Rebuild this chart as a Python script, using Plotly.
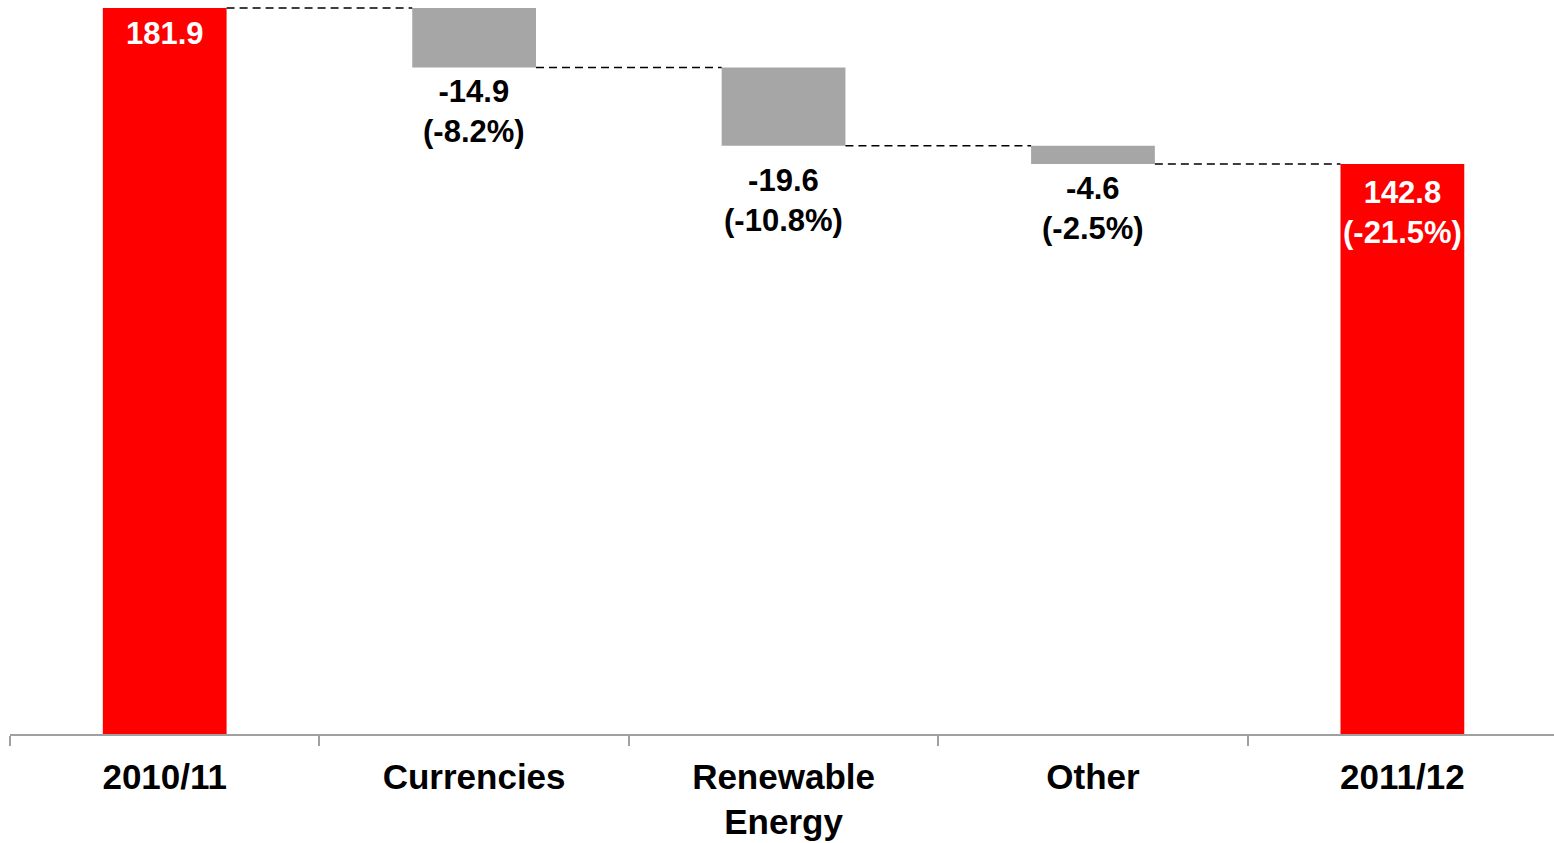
import plotly.graph_objects as go

categories = ["2010/11", "Currencies", "Renewable<br>Energy", "Other", "2011/12"]
kinds = ["total", "delta", "delta", "delta", "total"]
values = [181.9, -14.9, -19.6, -4.6, 142.8]
pct_labels = ["", "(-8.2%)", "(-10.8%)", "(-2.5%)", "(-21.5%)"]

RED = "#FF0000"
GREY = "#A6A6A6"
FONT = "Liberation Sans, Arial, sans-serif"
BAR_W = 0.4
label_gap = [6, 5, 15, 5, 9]

# compute bar bases/tops from data
bases, heights, levels = [], [], []
running = 0.0
for k, v in zip(kinds, values):
    if k == "total":
        bases.append(0.0)
        heights.append(v)
        running = v
    else:
        new = running + v
        bases.append(new)
        heights.append(-v)
        running = new
    levels.append(running)

colors = [RED if k == "total" else GREY for k in kinds]

fig = go.Figure()
fig.add_trace(go.Bar(
    x=categories, y=heights, base=bases, width=BAR_W,
    marker=dict(color=colors, line=dict(width=0)),
    hoverinfo="skip", showlegend=False,
))

# connectors
for i in range(len(categories) - 1):
    fig.add_shape(type="line", xref="x", yref="y",
                  x0=i + BAR_W / 2, x1=i + 1 - BAR_W / 2,
                  y0=levels[i], y1=levels[i],
                  line=dict(color="black", width=1.5, dash="8px,5px"))

# labels
for i, (c, k, v) in enumerate(zip(categories, kinds, values)):
    if k == "total":
        txt = f"<b>{v:.1f}</b>"
        if pct_labels[i]:
            txt += f"<br><b>{pct_labels[i]}</b>"
        fig.add_annotation(x=c, y=bases[i] + heights[i], text=txt,
                           showarrow=False, yanchor="top", yshift=-label_gap[i],
                           font=dict(family=FONT, size=31, color="white"))
    else:
        txt = f"<b>{v:.1f}</b><br><b>{pct_labels[i]}</b>"
        fig.add_annotation(x=c, y=bases[i], text=txt,
                           showarrow=False, yanchor="top", yshift=-label_gap[i],
                           font=dict(family=FONT, size=31, color="black"))

fig.update_layout(
    width=1554, height=843,
    margin=dict(l=10, r=0, t=0, b=109),
    plot_bgcolor="white", paper_bgcolor="white",
    bargap=0.6,
    xaxis=dict(type="category", tickson="boundaries", ticks="outside",
               ticklen=10, tickwidth=1.5, tickcolor="#A0A0A0",
               showline=True, linecolor="#A0A0A0", linewidth=1.5,
               showgrid=False, range=[-0.5, 4.49], automargin=False,
               ticklabelstandoff=11,
               tickfont=dict(family=FONT, size=35, color="black"),
               tickvals=categories,
               ticktext=[f"<b>{c}</b>".replace("<br>", "</b><br><b>") for c in categories]),
    yaxis=dict(range=[0, 183.9], visible=False, showgrid=False, zeroline=False,
               automargin=False),
)

fig.write_html("out.html")
